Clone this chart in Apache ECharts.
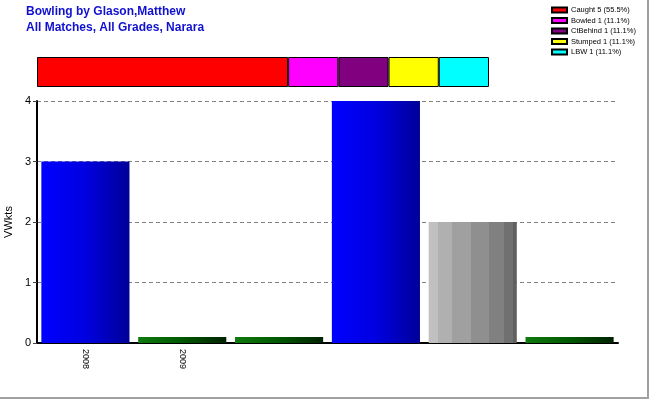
<!DOCTYPE html>
<html><head><meta charset="utf-8">
<script src="https://cdn.jsdelivr.net/npm/echarts@6/dist/echarts.min.js"></script>
<style>html,body{margin:0;padding:0;background:#fff}#c{width:650px;height:400px}</style>
</head><body><div id="c"></div>
<script>
var categories = ['2008', '2009', '', '', '', ''];
var wickets = [3, 0.1, 0.1, 4, 2, 0.1];
var barKinds = ['blue', 'green', 'green', 'blue', 'gray', 'green'];
var dismissalNames = ['Caught 5 (55.5%)', 'Bowled 1 (11.1%)', 'CtBehind 1 (11.1%)', 'Stumped 1 (11.1%)', 'LBW 1 (11.1%)'];
var dismissalCounts = [5, 1, 1, 1, 1];
var dismissalColors = ['#ff0000', '#ff00ff', '#800080', '#ffff00', '#00ffff'];
var yTicks = [0, 1, 2, 3, 4];

function grad(stops) {
  return new echarts.graphic.LinearGradient(0, 0, 1, 0, stops);
}
var fills = {
  blue: grad([{offset: 0, color: '#0000ff'}, {offset: 0.5, color: '#0000e0'}, {offset: 1, color: '#000098'}]),
  green: grad([{offset: 0, color: '#107a10'}, {offset: 0.5, color: '#005800'}, {offset: 1, color: '#002200'}]),
  gray: grad([
    {offset: 0, color: '#c0c0c0'}, {offset: 0.1, color: '#c0c0c0'},
    {offset: 0.1, color: '#b0b0b0'}, {offset: 0.27, color: '#b0b0b0'},
    {offset: 0.27, color: '#a0a0a0'}, {offset: 0.48, color: '#a0a0a0'},
    {offset: 0.48, color: '#8f8f8f'}, {offset: 0.69, color: '#8f8f8f'},
    {offset: 0.69, color: '#808080'}, {offset: 0.86, color: '#808080'},
    {offset: 0.86, color: '#707070'}, {offset: 0.96, color: '#707070'},
    {offset: 0.96, color: '#606060'}, {offset: 1, color: '#606060'}
  ])
};

var font = 'Liberation Sans, Arial, sans-serif';
var series = [{
  type: 'bar',
  xAxisIndex: 0, yAxisIndex: 0,
  barCategoryGap: '9%',
  data: wickets.map(function (v, i) { return {value: v, itemStyle: {color: fills[barKinds[i]]}}; }),
  silent: true
}];
dismissalNames.forEach(function (n, i) {
  series.push({
    type: 'bar', name: n, stack: 'd',
    xAxisIndex: 1, yAxisIndex: 1,
    barWidth: '100%',
    itemStyle: {color: dismissalColors[i], borderColor: '#000', borderWidth: 1},
    data: [dismissalCounts[i]],
    silent: true
  });
});
var total = dismissalCounts.reduce(function (a, b) { return a + b; }, 0);

var chart = echarts.init(document.getElementById('c'), null, {renderer: 'canvas'});
chart.setOption({
  animation: false,
  backgroundColor: '#fff',
  textStyle: {fontFamily: font},
  title: {
    text: 'Bowling by Glason,Matthew\nAll Matches, All Grades, Narara',
    left: 26, top: 4, padding: 0,
    textStyle: {color: '#1010d0', fontSize: 12, fontWeight: 'bold', lineHeight: 16, fontFamily: font}
  },
  legend: {
    orient: 'vertical', left: 551, top: 5, padding: 0,
    itemWidth: 15, itemHeight: 5, itemGap: 0.5,
    icon: 'rect',
    textStyle: {fontSize: 7.5, lineHeight: 10, color: '#000', fontFamily: font, padding: [0, 0, 0, -1]},
    data: dismissalNames
  },
  grid: [
    {left: 37, right: 32, top: 101, bottom: 57, outerBoundsMode: 'none', containLabel: false},
    {left: 37, width: 452, top: 57, height: 30, outerBoundsMode: 'none', containLabel: false}
  ],
  xAxis: [{
    type: 'category', gridIndex: 0, data: categories,
    axisLine: {lineStyle: {color: '#000', width: 2}},
    axisTick: {alignWithLabel: true, length: 4, lineStyle: {color: '#444'}},
    axisLabel: {rotate: -90, fontSize: 9, color: '#000', margin: 6, interval: 0}
  }, {
    type: 'value', gridIndex: 1, min: 0, max: total, show: false
  }],
  yAxis: [{
    type: 'value', gridIndex: 0, min: yTicks[0], max: yTicks[yTicks.length - 1], interval: 1,
    name: 'VWkts', nameLocation: 'middle', nameGap: 22, nameRotate: 90,
    nameTextStyle: {fontSize: 11, color: '#000'},
    axisLine: {show: true, lineStyle: {color: '#000', width: 2}},
    axisTick: {show: true, length: 4, lineStyle: {color: '#444'}},
    axisLabel: {fontSize: 11, color: '#000', margin: 6},
    splitLine: {lineStyle: {color: '#808080', type: [4, 3], width: 1}}
  }, {
    type: 'category', gridIndex: 1, data: [''], show: false
  }],
  graphic: [
    {type: 'line', shape: {x1: 648, y1: 0, x2: 648, y2: 398}, style: {stroke: '#a0a0a0', lineWidth: 2}},
    {type: 'line', shape: {x1: 0, y1: 398, x2: 649, y2: 398}, style: {stroke: '#a0a0a0', lineWidth: 2}}
  ],
  series: series
});
</script></body></html>
